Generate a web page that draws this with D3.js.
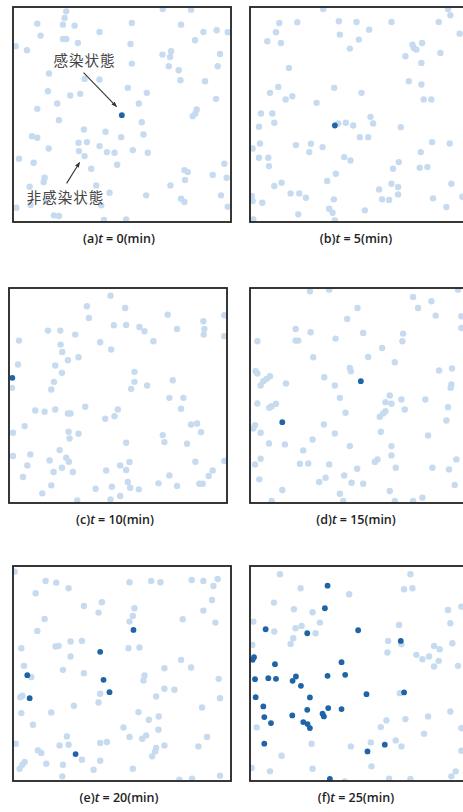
<!DOCTYPE html>
<html>
<head>
<meta charset="utf-8">
<script src="https://cdn.jsdelivr.net/npm/d3@7"></script>
<style>
body { margin: 0; background: #fff; }
</style>
</head>
<body>
<div id="chart"></div>
<script>
var width = 463;
var height = 812;

// simulation field units (0..655 x 0..646)
var letters = ["a", "b", "c", "d", "e", "f"];
var minutes = [0, 5, 10, 15, 20, 25];

var healthyA = [[160,13],[155,33],[73,50],[150,53],[185,56],[260,75],[357,48],[450,6],[505,53],[535,8],[572,75],[612,70],[645,76],
  [83,86],[150,96],[160,96],[195,108],[353,111],[547,100],[8,118],[42,130],[449,143],[475,133],[472,150],[622,141],[357,170],
  [468,178],[498,190],[615,178],[108,200],[215,216],[260,218],[503,220],[577,223],[345,243],[105,253],[402,258],[172,266],
  [202,261],[133,290],[73,306],[610,276],[552,308],[540,328],[548,320],[378,290],[138,340],[387,346],[213,368],[278,375],
  [57,388],[73,393],[325,391],[392,383],[197,408],[222,406],[260,418],[107,425],[198,433],[282,436],[305,438],[360,430],
  [405,438],[18,456],[215,448],[62,468],[313,474],[235,486],[635,471],[515,490],[525,496],[600,505],[95,513],[92,526],
  [642,513],[517,520],[50,540],[473,536],[250,536],[290,558],[400,566],[505,576],[515,586],[625,566],[100,583],[265,596],
  [123,626],[138,628],[273,640],[340,638],[645,600],[10,603],[53,595]];
var infectedA = [[327,325]];

var healthyB = [[220,6],[595,6],[88,48],[142,46],[267,43],[320,45],[425,45],[567,45],[602,25],[78,76],[358,68],[630,80],
  [52,103],[93,108],[270,83],[327,98],[300,125],[488,113],[500,128],[517,108],[492,123],[467,148],[572,138],[515,168],
  [117,183],[477,223],[515,233],[85,240],[60,258],[253,243],[335,258],[107,278],[127,268],[522,278],[545,278],[200,288],
  [33,320],[67,320],[73,348],[27,360],[265,350],[288,348],[310,356],[362,330],[370,350],[453,361],[8,425],[30,410],
  [138,415],[183,411],[218,421],[178,436],[330,391],[355,391],[513,436],[547,406],[600,410],[27,453],[55,453],[57,478],
  [283,451],[302,461],[447,466],[430,486],[510,483],[533,481],[258,501],[232,523],[95,528],[73,538],[425,531],[445,541],
  [605,531],[122,560],[148,560],[168,573],[388,548],[445,563],[5,568],[8,583],[37,588],[252,578],[397,578],[418,580],
  [550,575],[638,570],[238,606],[248,618],[345,611],[590,601],[145,623],[255,641],[10,638]];
var infectedB = [[255,356]];

var healthyC = [[305,23],[234,55],[349,60],[240,90],[477,80],[647,82],[584,100],[587,123],[585,140],[647,145],[117,128],
  [154,128],[199,140],[315,112],[352,111],[392,117],[407,130],[505,123],[434,160],[30,158],[155,170],[160,192],[274,163],
  [307,185],[177,217],[209,208],[27,230],[139,233],[159,255],[377,252],[377,282],[135,282],[127,305],[367,303],[415,293],
  [492,277],[9,300],[482,330],[524,330],[517,363],[79,368],[107,372],[139,365],[177,377],[185,377],[229,357],[327,365],
  [317,385],[289,393],[47,415],[12,435],[179,432],[209,438],[182,452],[462,442],[467,463],[352,465],[535,468],[547,410],
  [565,407],[577,433],[12,505],[64,500],[152,487],[172,510],[180,522],[122,518],[55,533],[134,553],[159,540],[192,553],
  [42,568],[292,548],[334,533],[352,547],[362,523],[482,563],[560,522],[612,548],[600,565],[647,520],[127,593],[100,617],
  [260,603],[309,597],[357,583],[364,600],[390,605],[449,587],[505,595],[572,588],[582,588],[205,638],[305,635],[334,625]];
var infectedC = [[10,270]];

var healthyD = [[180,10],[238,5],[490,27],[545,40],[505,60],[558,83],[625,5],[323,60],[292,93],[635,85],[635,120],[137,123],
  [182,133],[340,135],[460,137],[458,160],[22,160],[137,158],[145,158],[257,152],[397,180],[355,207],[190,208],[435,223],
  [568,248],[607,242],[300,240],[303,250],[17,250],[22,257],[60,265],[50,273],[40,280],[32,293],[108,287],[223,268],
  [255,293],[605,290],[603,300],[270,330],[420,323],[407,343],[425,348],[455,335],[527,335],[465,365],[22,347],[78,348],
  [65,355],[58,360],[287,375],[407,370],[390,387],[400,377],[595,358],[590,398],[15,412],[10,422],[32,435],[222,410],
  [255,437],[393,432],[535,443],[188,455],[57,467],[105,470],[300,475],[425,475],[160,488],[32,513],[15,530],[425,503],
  [383,515],[375,523],[150,528],[175,527],[238,530],[322,543],[438,540],[548,540],[598,545],[620,515],[28,575],[208,583],
  [227,570],[283,563],[305,585],[340,588],[615,592],[97,607],[270,618],[280,640],[65,640],[420,610],[435,640],[490,640],
  [518,630]];
var infectedD = [[333,280],[97,403]];

var healthyE = [[5,17],[98,45],[130,50],[167,67],[68,82],[350,49],[415,45],[443,49],[537,42],[572,45],[615,39],[602,60],
  [598,102],[572,134],[608,170],[510,160],[213,120],[267,109],[257,140],[365,127],[360,150],[350,167],[95,159],[73,195],
  [25,247],[128,242],[137,240],[173,227],[207,225],[173,272],[347,247],[380,245],[33,300],[150,312],[213,322],[395,329],
  [392,344],[455,307],[505,282],[535,305],[618,339],[55,334],[28,390],[22,394],[262,384],[257,410],[183,420],[115,440],
  [25,442],[430,392],[455,369],[485,372],[568,425],[622,397],[60,477],[377,439],[408,462],[438,452],[332,485],[437,492],
  [350,514],[388,519],[400,509],[162,512],[140,539],[167,537],[262,532],[282,529],[8,534],[75,554],[85,562],[430,547],
  [427,557],[418,572],[455,539],[557,542],[583,514],[100,594],[35,589],[28,597],[20,609],[207,582],[150,597],[262,585],
  [242,612],[360,609],[148,632],[500,642],[538,639],[622,630]];
var infectedE = [[362,192],[262,258],[272,342],[290,379],[43,328],[50,397],[188,565]];

var healthyF = [[90,25],[482,25],[152,67],[298,85],[463,70],[488,67],[72,110],[132,130],[188,139],[210,170],[137,187],
  [155,180],[73,197],[197,202],[130,217],[122,234],[10,167],[7,237],[448,177],[415,225],[455,235],[413,260],[500,267],
  [518,280],[538,272],[553,240],[570,250],[567,285],[553,302],[608,232],[595,132],[602,172],[625,300],[635,122],[450,382],
  [602,437],[535,452],[467,460],[410,464],[393,484],[523,504],[20,485],[185,534],[95,570],[363,530],[303,542],[438,524],
  [455,542],[365,602],[60,617],[188,609],[5,607],[635,555],[618,617],[605,632],[285,647],[418,639],[482,640],[635,487]];
var infectedF = [[233,59],[225,127],[47,190],[172,202],[325,193],[453,225],[12,274],[8,282],[75,295],[275,289],[233,330],
  [286,327],[15,340],[55,337],[78,339],[128,345],[138,332],[153,360],[17,394],[180,395],[40,422],[172,432],[235,427],
  [275,430],[218,444],[222,452],[127,449],[43,454],[63,472],[160,469],[173,475],[180,487],[350,385],[463,380],[43,534],
  [405,537],[353,557],[240,640]];

var healthySets = [healthyA, healthyB, healthyC, healthyD, healthyE, healthyF];
var infectedSets = [infectedA, infectedB, infectedC, infectedD, infectedE, infectedF];

// annotations in panel (a), field units
var notes = [
  {text: "感染状態", tx: 215, ty: 164, x1: 212, y1: 197, x2: 311, y2: 299},
  {text: "非感染状態", tx: 158, ty: 578, x1: 161, y1: 530, x2: 200, y2: 467}
];

var panelPos = [[13, 7], [250, 7], [9, 288], [250, 288], [13, 566], [250, 566]];
var pw = 218, ph = 215;

var x = d3.scaleLinear().domain([0, 655]).range([0, pw]);
var y = d3.scaleLinear().domain([0, 646]).range([0, ph]);

var svg = d3.select("#chart")
    .append("svg")
    .attr("width", width)
    .attr("height", height);

var defs = svg.append("defs");
defs.append("clipPath").attr("id", "panelClip")
    .append("rect").attr("width", pw).attr("height", ph);

defs.append("marker")
    .attr("id", "arrowHead")
    .attr("viewBox", "0 0 10 10")
    .attr("refX", 9).attr("refY", 5)
    .attr("markerWidth", 5).attr("markerHeight", 5)
    .attr("orient", "auto")
    .append("path")
    .attr("d", "M0,1 L10,5 L0,9 z")
    .attr("fill", "#333");

var panel = svg.selectAll("g.panel")
    .data(letters)
    .enter()
    .append("g")
    .attr("class", "panel")
    .attr("transform", (d, i) => `translate(${panelPos[i][0]},${panelPos[i][1]})`);

var field = panel.append("g").attr("clip-path", "url(#panelClip)");

field.append("g").selectAll("circle")
    .data((d, i) => healthySets[i])
    .enter().append("circle")
    .attr("cx", d => x(d[0]))
    .attr("cy", d => y(d[1]))
    .attr("r", 3.2)
    .attr("fill", "#c6dbef");

field.append("g").selectAll("circle")
    .data((d, i) => infectedSets[i])
    .enter().append("circle")
    .attr("cx", d => x(d[0]))
    .attr("cy", d => y(d[1]))
    .attr("r", 2.9)
    .attr("fill", "#1f63a8");

panel.append("rect")
    .attr("width", pw)
    .attr("height", ph)
    .attr("fill", "none")
    .attr("stroke", "#222")
    .attr("stroke-width", 1.8);

var label = panel.append("text")
    .attr("x", 106)
    .attr("y", ph + 18)
    .attr("text-anchor", "middle")
    .attr("dominant-baseline", "middle")
    .style("font-family", "'Open Sans', sans-serif")
    .style("font-size", "12.5px")
    .style("font-weight", 600)
    .style("fill", "#222");
label.append("tspan").text(d => "(" + d + ")");
label.append("tspan").style("font-style", "italic").text("t");
label.append("tspan").text((d, i) => " = " + minutes[i] + "(min)");

// annotations
var first = d3.select(panel.nodes()[0]);
first.selectAll("line.note")
    .data(notes)
    .enter().append("line")
    .attr("class", "note")
    .attr("x1", d => x(d.x1)).attr("y1", d => y(d.y1))
    .attr("x2", d => x(d.x2)).attr("y2", d => y(d.y2))
    .attr("stroke", "#333")
    .attr("stroke-width", 1.1)
    .attr("marker-end", "url(#arrowHead)");

first.selectAll("text.note")
    .data(notes)
    .enter().append("text")
    .attr("class", "note")
    .attr("x", d => x(d.tx))
    .attr("y", d => y(d.ty))
    .attr("text-anchor", "middle")
    .attr("dominant-baseline", "middle")
    .style("font-family", "'Noto Sans CJK JP', sans-serif")
    .style("font-size", "14.5px")
    .style("letter-spacing", "1px")
    .style("fill", "#444")
    .text(d => d.text);
</script>
</body>
</html>
